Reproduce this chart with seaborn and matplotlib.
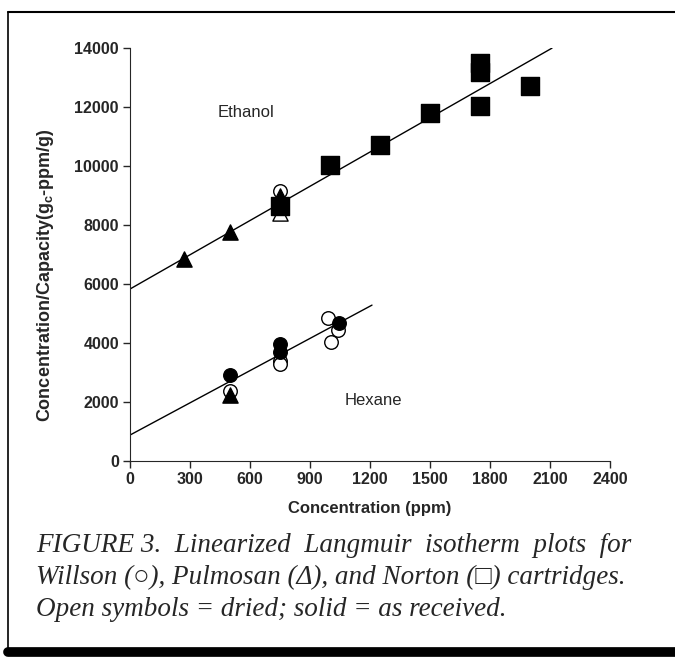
import numpy as np
import pandas as pd
import matplotlib
matplotlib.use("Agg")
import matplotlib.pyplot as plt
from matplotlib.lines import Line2D
import seaborn as sns

# Data: (solvent, cartridge, condition, conc, ratio)
solvent = ["Ethanol"] * 13 + ["Hexane"] * 11
cartridge = (["Pulmosan"] * 4 + ["Willson"] + ["Norton"] * 8
             + ["Willson"] * 10 + ["Pulmosan"])
condition = (["solid", "solid", "solid", "open", "open"] + ["solid"] * 8
             + ["solid"] * 4 + ["open"] * 6 + ["solid"])
conc = [270, 500, 750, 750, 750, 750, 1000, 1250, 1500, 1750, 1750, 1750, 2000,
        500, 750, 750, 1045, 500, 750, 750, 990, 1005, 1040, 500]
ratio = [6850, 7750, 9000, 8400, 9150, 8650, 10050, 10700, 11800, 13500, 13200, 12050, 12700,
         2900, 3950, 3700, 4680, 2380, 3400, 3280, 4850, 4030, 4440, 2250]

# linear fits (intercept, slope, x end)
fit_solvent = ["Ethanol", "Hexane"]
fit_intercept = [5830, 880]
fit_slope = [3.87, 3.64]
fit_xend = [2110, 1210]

caption = ["FIGURE 3.  Linearized  Langmuir  isotherm  plots  for",
           "Willson (○), Pulmosan (Δ), and Norton (□) cartridges.",
           "Open symbols = dried; solid = as received."]

df = pd.DataFrame({"solvent": solvent, "cartridge": cartridge, "condition": condition,
                   "conc": conc, "ratio": ratio})

sns.set_style("ticks")
plt.rcParams["font.family"] = ["Liberation Sans", "DejaVu Sans"]

fig = plt.figure(figsize=(6.75, 6.62), dpi=100)
ax = fig.add_axes([0.1926, 0.3036, 0.7111, 0.6239])

# fit lines
for s, b0, b1, xe in zip(fit_solvent, fit_intercept, fit_slope, fit_xend):
    xs = np.array([0, xe])
    sns.lineplot(x=xs, y=b0 + b1 * xs, ax=ax, color="black", lw=1.0)

marker_map = {"Willson": "o", "Pulmosan": "^", "Norton": "s"}
size_map = {"Willson": 95, "Pulmosan": 120, "Norton": 150}

# open (dried) first, solid on top
for cond in ["open", "solid"]:
    for cart in ["Willson", "Pulmosan", "Norton"]:
        sub = df[(df.condition == cond) & (df.cartridge == cart)]
        if sub.empty:
            continue
        sns.scatterplot(data=sub, x="conc", y="ratio", ax=ax,
                        marker=marker_map[cart], s=size_map[cart],
                        color="black" if cond == "solid" else "white",
                        edgecolor="black", linewidth=1.0, zorder=3, legend=False)

ax.set_xlim(0, 2400)
ax.set_ylim(0, 14000)
ax.set_xticks(np.arange(0, 2401, 300))
ax.set_yticks(np.arange(0, 14001, 2000))
ax.tick_params(direction="out", length=5, width=1, labelsize=11.5, pad=3)
for lab in ax.get_xticklabels() + ax.get_yticklabels():
    lab.set_fontweight("bold")
ax.set_xlabel("Concentration (ppm)", fontsize=12, fontweight="bold", labelpad=10)
ax.set_ylabel("Concentration/Capacity(g$_\\mathregular{c}$-ppm/g)", fontsize=13,
              fontweight="bold", labelpad=6)
ax.yaxis.set_label_coords(-0.155, 0.45)
sns.despine(ax=ax)

ax.text(440, 11800, "Ethanol", fontsize=12, va="center")
ax.text(1075, 2050, "Hexane", fontsize=12, va="center")

# caption
for i, line in enumerate(caption):
    fig.text(36 / 675, 1 - (545 + 32 * i) / 662, line, fontsize=19.5,
             family=["Liberation Serif", "DejaVu Serif"], style="italic", va="center")

# page frame
fig.add_artist(Line2D([8 / 675, 8 / 675], [1 - 12 / 662, 1 - 655 / 662],
                      transform=fig.transFigure, color="black", lw=1.2))
fig.add_artist(Line2D([8 / 675, 1.0], [1 - 12 / 662, 1 - 12 / 662],
                      transform=fig.transFigure, color="black", lw=1.5))
fig.add_artist(Line2D([8 / 675, 1.0], [1 - 652 / 662, 1 - 652 / 662],
                      transform=fig.transFigure, color="black", lw=7))

fig.savefig("out.png", dpi=100)
